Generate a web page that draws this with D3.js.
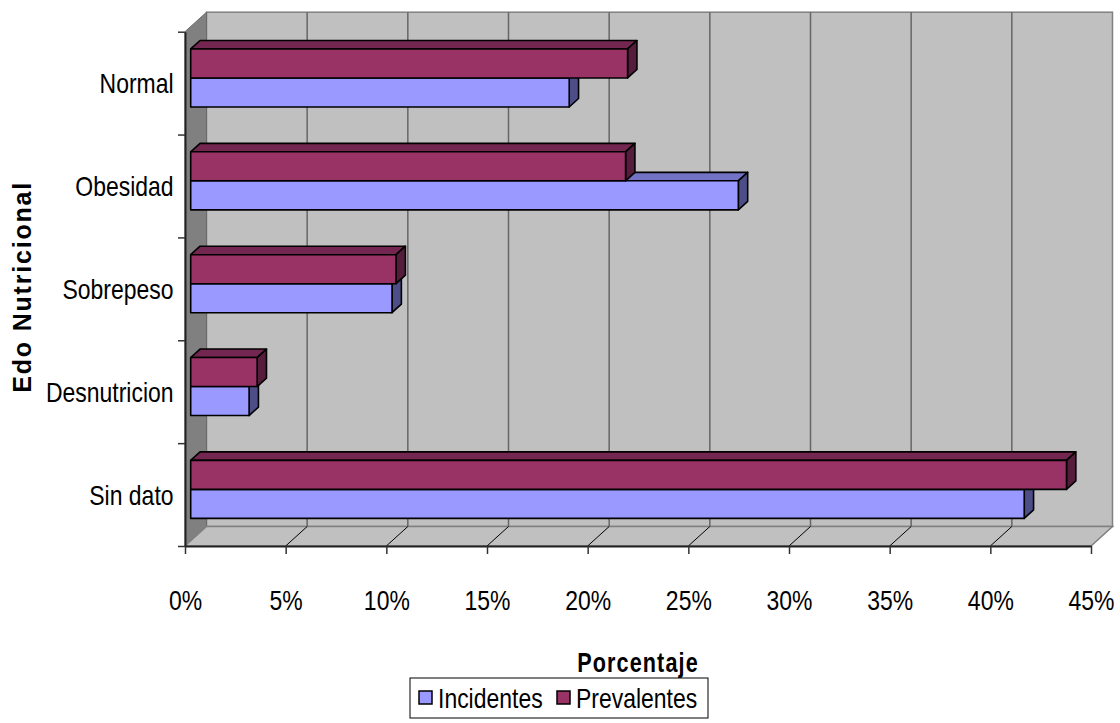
<!DOCTYPE html>
<html>
<head>
<meta charset="utf-8">
<script src="https://cdn.jsdelivr.net/npm/d3@7"></script>
<style>
  html, body { margin: 0; padding: 0; background: #fff; }
  svg { display: block; }
  text { font-family: "Liberation Sans", Arial, sans-serif; fill: #000; }
</style>
</head>
<body>
<svg id="chart" width="1120" height="723"></svg>
<script>
// Estado nutricional: porcentaje de casos incidentes y prevalentes
const categories = ["Normal", "Obesidad", "Sobrepeso", "Desnutricion", "Sin dato"];
const incidentes = [18.8, 27.2, 10.0, 2.9, 41.4];
const prevalentes = [21.7, 21.6, 10.2, 3.3, 43.5];
const seriesNames = ["Incidentes", "Prevalentes"];
const xTickValues = [0, 5, 10, 15, 20, 25, 30, 35, 40, 45];
const xTitle = "Porcentaje";
const yTitle = "Edo Nutricional";

const svg = d3.select("#chart");

// front plane of the 3-D box and the depth vector towards the back wall
const X0 = 185, X1 = 1091, YT = 31.7, YB = 546;
const DX = 21.5, DY = -19.5;
// bars sit between these fractions of the depth
const F1 = 0.265, F2 = 0.70;

// narrow, tall lettering
const FONT = 28, SQUEEZE = 0.82;

const x = d3.scaleLinear().domain([0, 45]).range([X0, X1]);
const y = d3.scaleBand().domain(categories).range([YT, YB])
  .paddingInner(0.436).paddingOuter(0.218);
const ySeries = d3.scaleBand().domain(["Prevalentes", "Incidentes"]).range([0, y.bandwidth()]);

const colors = {
  Incidentes: { front: "#9999ff", top: "#7373c6", side: "#4d4d88" },
  Prevalentes: { front: "#993366", top: "#732650", side: "#561c3c" }
};

const poly = pts => pts.map(p => p.join(",")).join(" ");

// walls and floor
const walls = svg.append("g");
walls.append("rect")
  .attr("x", X0 + DX).attr("y", YT + DY)
  .attr("width", X1 - X0).attr("height", YB - YT)
  .attr("fill", "#c0c0c0").attr("stroke", "#808080").attr("stroke-width", 1.5);
walls.append("polygon")
  .attr("points", poly([[X0, YT], [X0 + DX, YT + DY], [X0 + DX, YB + DY], [X0, YB]]))
  .attr("fill", "#808080").attr("stroke", "#6a6a6a").attr("stroke-width", 1);
walls.append("polygon")
  .attr("points", poly([[X0, YB], [X0 + DX, YB + DY], [X1 + DX, YB + DY], [X1, YB]]))
  .attr("fill", "#c0c0c0").attr("stroke", "#808080").attr("stroke-width", 1.5);

// gridlines on the back wall and on the floor
const inner = xTickValues.filter(t => t > 0 && t < 45);
walls.selectAll("line.gw").data(inner).join("line")
  .attr("x1", d => x(d) + DX).attr("x2", d => x(d) + DX)
  .attr("y1", YT + DY).attr("y2", YB + DY)
  .attr("stroke", "#666").attr("stroke-width", 1.5);
walls.selectAll("line.gf").data(inner).join("line")
  .attr("x1", d => x(d)).attr("y1", YB)
  .attr("x2", d => x(d) + DX).attr("y2", YB + DY)
  .attr("stroke", "#000").attr("stroke-width", 1);

// x axis on the front edge of the floor
const xAxis = svg.append("g")
  .attr("transform", `translate(0,${YB})`)
  .call(d3.axisBottom(x).tickValues(xTickValues).tickFormat(d => d + "%")
    .tickSize(8).tickSizeOuter(0));
xAxis.select(".domain").attr("stroke", "#222").attr("stroke-width", 2);
xAxis.selectAll(".tick line").attr("stroke", "#333").attr("stroke-width", 1.5);
xAxis.selectAll(".tick text")
  .attr("y", 54).attr("dy", "0.36em")
  .attr("transform", `scale(${SQUEEZE},1)`)
  .attr("font-size", FONT).attr("font-family", "Liberation Sans, Arial, sans-serif")
  .attr("fill", "#000");

// category axis: boundary ticks and centred labels
const yEdge = d3.scaleLinear().domain([0, categories.length]).range([YT, YB]);
const yTicks = svg.append("g")
  .attr("transform", `translate(${X0},0)`)
  .call(d3.axisLeft(yEdge).ticks(categories.length).tickFormat("").tickSize(7).tickSizeOuter(0));
yTicks.select(".domain").attr("stroke", "#222").attr("stroke-width", 2);
yTicks.selectAll(".tick line").attr("stroke", "#333").attr("stroke-width", 1.5);

const yLabels = svg.append("g")
  .attr("transform", `translate(${X0},0)`)
  .call(d3.axisLeft(y).tickSize(0).tickPadding(14));
yLabels.select(".domain").remove();
yLabels.selectAll(".tick text")
  .attr("y", 1)
  .attr("transform", `scale(${SQUEEZE},1)`)
  .attr("font-size", FONT).attr("font-family", "Liberation Sans, Arial, sans-serif")
  .attr("fill", "#000");

// 3-D bars
const bars = svg.append("g");
const fx1 = DX * F1, fy1 = DY * F1;
const dbx = DX * (F2 - F1), dby = DY * (F2 - F1);

function drawBar(g, cat, series, value) {
  const c = colors[series];
  const xl = x(0) + fx1, xr = x(value) + fx1;
  const yt = y(cat) + ySeries(series) + fy1;
  const yb = yt + ySeries.bandwidth();
  const s = { stroke: "#000", "stroke-width": 1.6, "stroke-linejoin": "round" };
  const top = g.append("polygon")
    .attr("points", poly([[xl, yt], [xl + dbx, yt + dby], [xr + dbx, yt + dby], [xr, yt]]))
    .attr("fill", c.top);
  const side = g.append("polygon")
    .attr("points", poly([[xr, yt], [xr + dbx, yt + dby], [xr + dbx, yb + dby], [xr, yb]]))
    .attr("fill", c.side);
  const front = g.append("rect")
    .attr("x", xl).attr("y", yt).attr("width", xr - xl).attr("height", yb - yt)
    .attr("fill", c.front);
  [top, side, front].forEach(el => Object.entries(s).forEach(([k, v]) => el.attr(k, v)));
}

categories.forEach((cat, i) => {
  const g = bars.append("g");
  drawBar(g, cat, "Incidentes", incidentes[i]);
  drawBar(g, cat, "Prevalentes", prevalentes[i]);
});

// axis titles
svg.append("text")
  .attr("transform", `translate(${(X0 + X1) / 2},662) scale(0.8,1)`)
  .attr("dy", "0.36em")
  .attr("text-anchor", "middle").attr("font-size", 27).attr("font-weight", "bold")
  .attr("letter-spacing", 1.4)
  .text(xTitle);

svg.append("text")
  .attr("transform", `translate(22,${(YT + YB) / 2 - 2}) rotate(-90)`)
  .attr("dy", "0.36em")
  .attr("text-anchor", "middle").attr("font-size", 25).attr("font-weight", "bold")
  .attr("letter-spacing", 1.8)
  .text(yTitle);

// legend
const legend = svg.append("g");
legend.append("rect")
  .attr("x", 410).attr("y", 678).attr("width", 298).attr("height", 40)
  .attr("fill", "#fff").attr("stroke", "#000").attr("stroke-width", 1);
const legendX = [419, 557];
seriesNames.forEach((name, i) => {
  legend.append("rect")
    .attr("x", legendX[i]).attr("y", 691).attr("width", 13).attr("height", 13)
    .attr("fill", colors[name].front).attr("stroke", "#000").attr("stroke-width", 1.5);
  legend.append("text")
    .attr("transform", `translate(${legendX[i] + 19},698) scale(${SQUEEZE},1)`)
    .attr("dy", "0.36em")
    .attr("font-size", FONT)
    .text(name);
});
</script>
</body>
</html>
